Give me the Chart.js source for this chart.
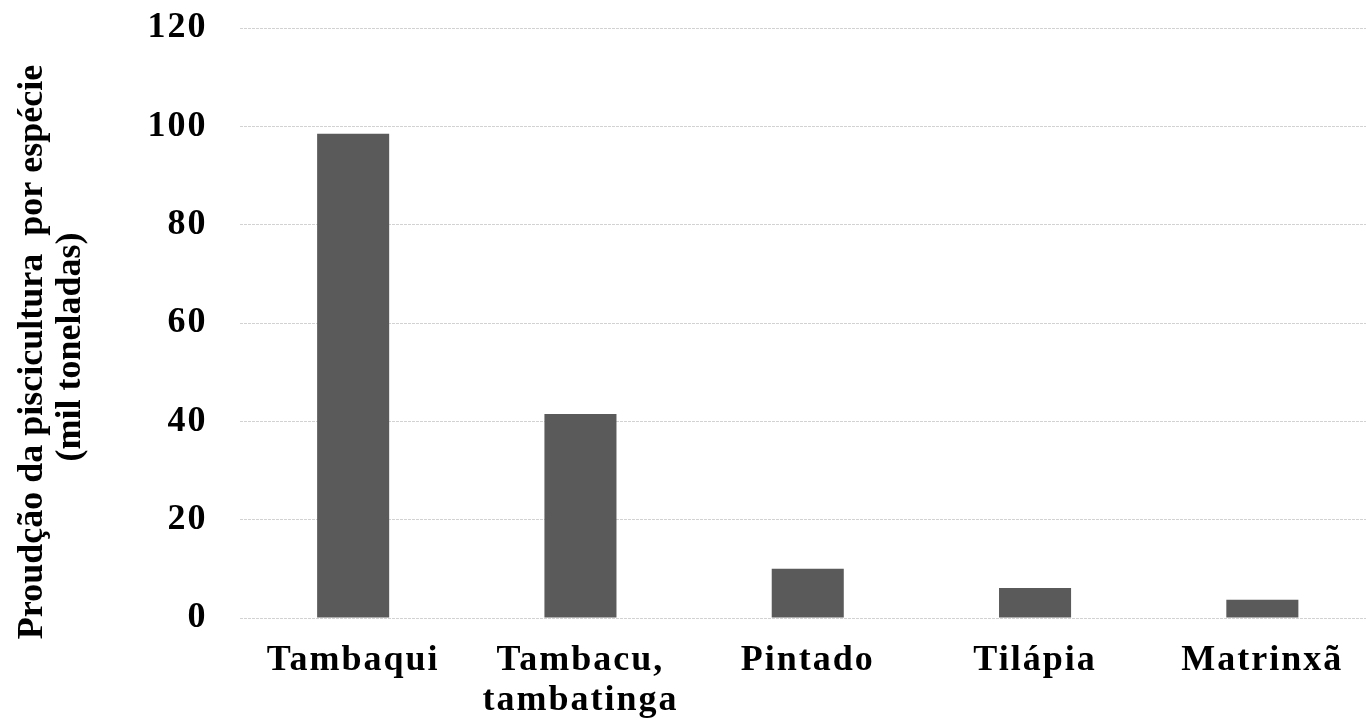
<!DOCTYPE html>
<html>
<head>
<meta charset="utf-8">
<script src="https://cdn.jsdelivr.net/npm/chart.js@4/dist/chart.umd.min.js"></script>
<style>
  html, body { margin: 0; padding: 0; background: #fff; overflow: hidden; }
  canvas { display: block; }
</style>
</head>
<body>
<canvas id="chart" width="1376" height="723"></canvas>
<script>
// Production by species (thousand tonnes)
const categories = ["Tambaqui", ["Tambacu,", "tambatinga"], "Pintado", "Tilápia", "Matrinxã"];
const production = [98.5, 41.5, 10.0, 6.1, 3.7];
const yTitleLines = ["Proudção da piscicultura  por espécie", "(mil toneladas)"];

const FONT = "'Liberation Serif', 'Times New Roman', serif";

// Slightly spaced lettering for the tick labels
const spacingPlugin = {
  id: 'spacing',
  beforeLayout(chart) { chart.ctx.letterSpacing = '2px'; },
  beforeDraw(chart) { chart.ctx.letterSpacing = '2px'; }
};

// Rotated two-line axis title drawn at the left edge
const yTitlePlugin = {
  id: 'yTitle',
  afterDraw(chart) {
    const ctx = chart.ctx;
    ctx.save();
    ctx.letterSpacing = '0px';
    ctx.fillStyle = '#000';
    ctx.font = 'bold 36px ' + FONT;
    ctx.textAlign = 'center';
    ctx.textBaseline = 'middle';
    const xs = [33, 71];
    const ys = [352, 347];
    yTitleLines.forEach((line, i) => {
      ctx.save();
      ctx.translate(xs[i], ys[i]);
      ctx.rotate(-Math.PI / 2);
      ctx.fillText(line, 0, 0);
      ctx.restore();
    });
    ctx.restore();
  }
};

new Chart(document.getElementById('chart'), {
  type: 'bar',
  data: {
    labels: categories,
    datasets: [{
      data: production,
      backgroundColor: '#5a5a5a',
      borderWidth: 0,
      barPercentage: 0.317,
      categoryPercentage: 1.0
    }]
  },
  options: {
    responsive: false,
    animation: false,
    layout: { padding: { top: 28, left: 0, right: 0, bottom: 0 } },
    plugins: {
      legend: { display: false },
      tooltip: { enabled: false }
    },
    scales: {
      x: {
        grid: { display: false, drawTicks: false },
        border: { display: false },
        ticks: {
          color: '#000',
          font: { family: FONT, size: 36, weight: 'bold', lineHeight: 1.1 },
          padding: 23,
          maxRotation: 0,
          autoSkip: false
        },
        afterFit(scale) {
          scale.height = 105;
          scale.paddingLeft = 0; scale.paddingRight = 0;
          scale.paddingTop = 0; scale.paddingBottom = 0;
        }
      },
      y: {
        min: 0,
        max: 120,
        grid: { color: '#d2d2d2', lineWidth: 1, drawTicks: false },
        border: { display: false, dash: [3, 1] },
        ticks: {
          stepSize: 20,
          color: '#000',
          font: { family: FONT, size: 36, weight: 'bold' },
          padding: 32
        },
        afterFit(scale) {
          scale.width = 239.5;
          scale.paddingTop = 0; scale.paddingBottom = 0;
          scale.paddingLeft = 0; scale.paddingRight = 0;
        }
      }
    }
  },
  plugins: [spacingPlugin, yTitlePlugin]
});
</script>
</body>
</html>
